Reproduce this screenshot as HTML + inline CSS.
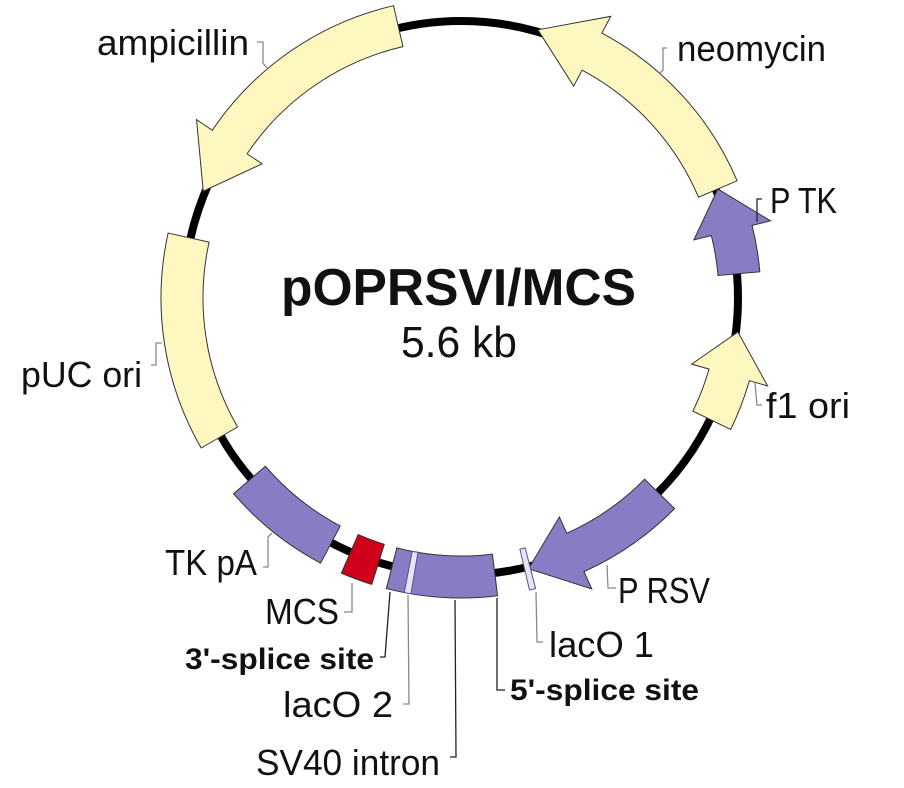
<!DOCTYPE html>
<html>
<head>
<meta charset="utf-8">
<style>
html,body{margin:0;padding:0;background:#fff;}
svg{display:block;}
text{font-family:"Liberation Sans",Arial,sans-serif;fill:#111;}
.lab{font-size:36px;}
.bl{font-size:30px;font-weight:bold;}
.y{fill:#FEF7C0;stroke:#333;stroke-width:1;}
.p{fill:#8A7BC5;stroke:#333;stroke-width:1;}
.r{fill:#D0001A;stroke:#333;stroke-width:1;}
.s{fill:#E8E4F8;stroke:#5a4f8a;stroke-width:1;}
.ld{fill:none;stroke:#888;stroke-width:1.3;}
.ldk{fill:none;stroke:#222;stroke-width:1.3;}
</style>
</head>
<body>
<svg width="904" height="788" viewBox="0 0 904 788" xmlns="http://www.w3.org/2000/svg">
<rect width="904" height="788" fill="#fff"/>
<circle cx="461" cy="298" r="277" fill="none" stroke="#000" stroke-width="8"/>

<!-- ampicillin -->
<path class="y" d="M393.51,5.69 A300,300 0 0 0 212.29,130.24 L196.54,119.62 L203.24,191.23 L262.03,163.79 L247.11,153.73 A258,258 0 0 1 402.96,46.61 Z"/>
<!-- neomycin -->
<path class="y" d="M737.15,180.78 A300,300 0 0 0 601.84,33.11 L610.76,16.34 L537.90,29.81 L573.67,86.09 L582.12,70.20 A258,258 0 0 1 698.49,197.19 Z"/>
<!-- P TK -->
<path class="p" d="M759.86,271.85 A300,300 0 0 0 752.09,225.42 L770.53,220.83 L717.82,188.99 L693.87,239.94 L711.34,235.58 A258,258 0 0 1 718.02,275.51 Z"/>
<!-- f1 ori -->
<path class="y" d="M730.64,429.51 A300,300 0 0 0 749.38,380.69 L767.64,385.93 L737.92,332.00 L691.70,364.15 L709.01,369.12 A258,258 0 0 1 692.89,411.10 Z"/>
<!-- P RSV -->
<path class="p" d="M674.61,508.65 A300,300 0 0 1 583.98,571.64 L591.76,588.97 L528.50,568.71 L559.38,516.91 L566.76,533.33 A258,258 0 0 0 644.70,479.15 Z"/>
<!-- lacO 1 -->
<path class="s" d="M535.61,588.57 A300,300 0 0 1 529.51,590.07 L519.91,549.18 A258,258 0 0 0 525.16,547.89 Z"/>
<!-- SV40 intron box -->
<path class="p" d="M497.56,595.77 A300,300 0 0 1 386.39,588.57 L396.84,547.89 A258,258 0 0 0 492.44,554.08 Z"/>
<!-- lacO 2 -->
<path class="s" d="M410.97,593.80 A300,300 0 0 1 404.27,592.59 L412.21,551.35 A258,258 0 0 0 417.97,552.39 Z"/>
<!-- MCS -->
<path class="r" d="M371.79,584.43 A300,300 0 0 1 341.37,573.12 L358.12,534.60 A258,258 0 0 0 384.28,544.33 Z"/>
<!-- TK pA -->
<path class="p" d="M320.62,563.13 A300,300 0 0 1 233.56,493.63 L265.40,466.24 A258,258 0 0 0 340.27,526.01 Z"/>
<!-- pUC ori -->
<path class="y" d="M201.19,448 A300,300 0 0 1 168.11,233.07 L209.11,242.16 A258,258 0 0 0 237.56,427 Z"/>

<!-- leaders -->
<polyline class="ld" points="257,42 263,42 263,63 267,68"/>
<polyline class="ld" points="667,48 663,48 663,70 659,74"/>
<polyline class="ldk" points="762,199 757,199 757,222"/>
<polyline class="ld" points="755,383 757,405 762,405"/>
<polyline class="ld" points="151,365 156,365 156,343 162,343"/>
<polyline class="ld" points="263,567 268,567 268,537 272,533"/>
<polyline class="ld" points="344,612 352,612 352,583"/>
<polyline class="ldk" points="390,592 385,657 380,657"/>
<polyline class="ld" points="408,595 409,704 403,704"/>
<polyline class="ldk" points="455,600 456,757 450,757"/>
<polyline class="ldk" points="497,598 497,690 505,690"/>
<polyline class="ld" points="536,592 537,642 543,642"/>
<polyline class="ld" points="607,565 608,588 616,588"/>

<!-- labels -->
<text class="lab" x="97" y="55" textLength="152" lengthAdjust="spacingAndGlyphs">ampicillin</text>
<text class="lab" x="677" y="61" textLength="149" lengthAdjust="spacingAndGlyphs">neomycin</text>
<text class="lab" x="770" y="213" textLength="67" lengthAdjust="spacingAndGlyphs">P TK</text>
<text class="lab" x="766" y="418" textLength="84" lengthAdjust="spacingAndGlyphs">f1 ori</text>
<text class="lab" x="21" y="387" textLength="121" lengthAdjust="spacingAndGlyphs">pUC ori</text>
<text class="lab" x="165" y="575" textLength="92" lengthAdjust="spacingAndGlyphs">TK pA</text>
<text class="lab" x="265" y="624" textLength="74" lengthAdjust="spacingAndGlyphs">MCS</text>
<text class="lab" x="618" y="603" textLength="92" lengthAdjust="spacingAndGlyphs">P RSV</text>
<text class="lab" x="549" y="657" textLength="105" lengthAdjust="spacingAndGlyphs">lacO 1</text>
<text class="bl" x="185" y="669" textLength="189" lengthAdjust="spacingAndGlyphs">3'-splice site</text>
<text class="lab" x="283" y="717" textLength="110" lengthAdjust="spacingAndGlyphs">lacO 2</text>
<text class="bl" x="510" y="700" textLength="189" lengthAdjust="spacingAndGlyphs">5'-splice site</text>
<text class="lab" x="256" y="775" textLength="184" lengthAdjust="spacingAndGlyphs">SV40 intron</text>

<text x="281" y="305" style="font-size:52px;font-weight:bold;" textLength="355" lengthAdjust="spacingAndGlyphs">pOPRSVI/MCS</text>
<text x="401" y="357" style="font-size:44px;" textLength="116" lengthAdjust="spacingAndGlyphs">5.6 kb</text>
</svg>
</body>
</html>
